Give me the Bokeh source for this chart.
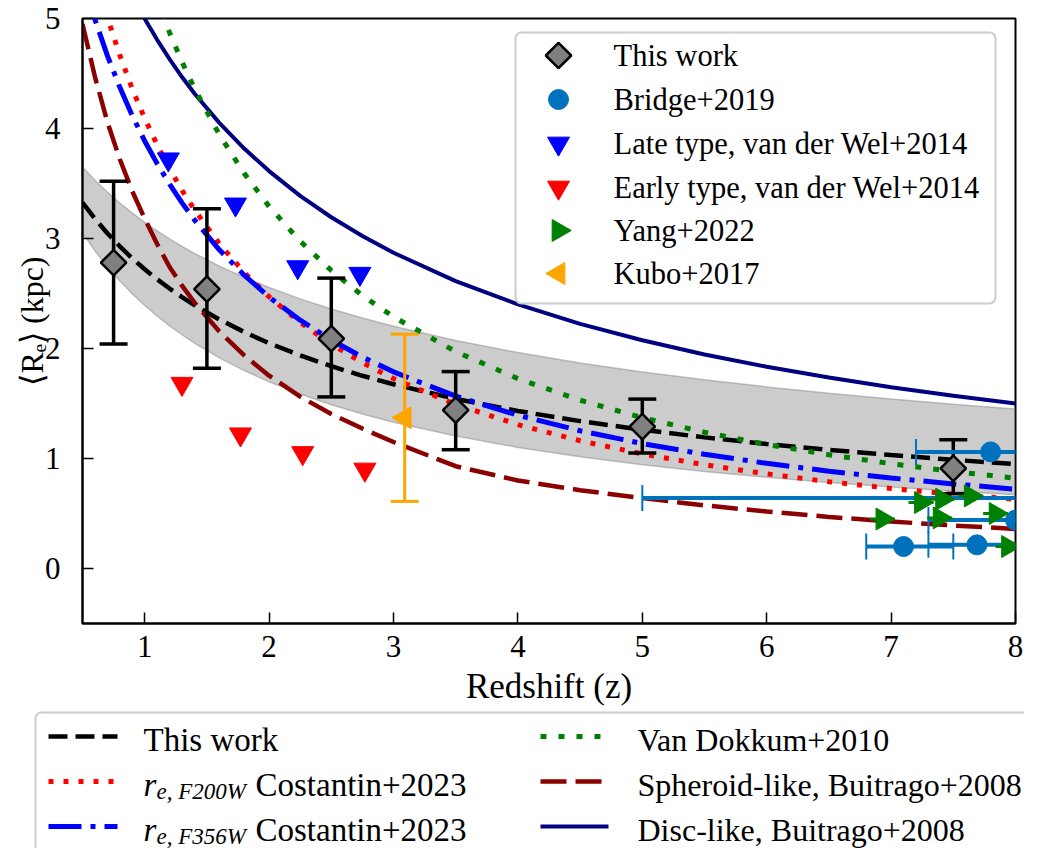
import math
from bokeh.plotting import figure
from bokeh.models import Range1d, FixedTicker
from bokeh.layouts import column
from bokeh.embed import file_html
from bokeh.resources import INLINE
from bokeh.core.properties import value

SERIF = "Liberation Serif"

# ---------------- data ----------------
x_ticks = [1, 2, 3, 4, 5, 6, 7, 8]
y_ticks = [0, 1, 2, 3, 4, 5]

# This work: binned mean sizes with error bars
tw_z = [0.75, 1.5, 2.5, 3.5, 5.0, 7.5]
tw_re = [2.78, 2.54, 2.09, 1.44, 1.29, 0.91]
tw_lo = [2.04, 1.82, 1.56, 1.08, 1.05, 0.68]
tw_hi = [3.52, 3.27, 2.64, 1.79, 1.54, 1.17]

# Bridge+2019 (points with redshift error bars)
br_z = [7.80, 8.60, 8.00, 7.10, 7.69]
br_re = [1.06, 0.64, 0.44, 0.20, 0.215]
br_zlo = [7.20, 5.00, 7.30, 6.80, 7.30]
br_zhi = [8.40, 9.50, 8.60, 7.50, 8.10]

# van der Wel+2014
late_z = [1.19, 1.73, 2.23, 2.73]
late_re = [3.72, 3.31, 2.74, 2.68]
early_z = [1.30, 1.77, 2.27, 2.77]
early_re = [1.68, 1.22, 1.05, 0.90]

# Yang+2022
yang_z = [7.24, 7.41, 7.64, 7.84, 6.93, 7.39, 7.94]
yang_re = [0.60, 0.63, 0.66, 0.50, 0.45, 0.46, 0.20]
yang_zerr = [0.10, 0.10, 0.10, 0.10, 0.10, 0.10, 0.10]

# Kubo+2017
kubo_z = [3.09]
kubo_re = [1.37]
kubo_lo = [0.61]
kubo_hi = [2.13]

# Curves (values read along redshift)
zc = [0.5, 0.6, 0.7, 0.8, 0.9, 1.0, 1.1, 1.2, 1.3, 1.4, 1.6, 1.8, 2.0, 2.25,
      2.5, 2.75, 3.0, 3.5, 4.0, 4.5, 5.0, 5.5, 6.0, 6.5, 7.0, 7.5, 8.0]
fit_this = [3.327, 3.180, 3.048, 2.929, 2.820, 2.720, 2.629, 2.545, 2.467, 2.394,
            2.264, 2.150, 2.048, 1.937, 1.839, 1.752, 1.675, 1.542, 1.432, 1.340,
            1.261, 1.192, 1.132, 1.079, 1.031, 0.988, 0.949]
band_hi = [3.650, 3.530, 3.422, 3.323, 3.231, 3.147, 3.069, 2.996, 2.929, 2.865,
           2.749, 2.647, 2.554, 2.451, 2.359, 2.277, 2.202, 2.073, 1.963, 1.869,
           1.787, 1.715, 1.651, 1.593, 1.541, 1.494, 1.450]
band_lo = [3.050, 2.888, 2.744, 2.614, 2.497, 2.391, 2.295, 2.206, 2.125, 2.049,
           1.915, 1.799, 1.697, 1.586, 1.489, 1.405, 1.330, 1.204, 1.101, 1.016,
           0.944, 0.882, 0.829, 0.782, 0.740, 0.703, 0.670]
cost_f200w = [5.855, 5.402, 5.010, 4.666, 4.361, 4.092, 3.851, 3.634, 3.438, 3.261,
              2.952, 2.691, 2.470, 2.236, 2.039, 1.871, 1.726, 1.491, 1.308, 1.161,
              1.042, 0.943, 0.860, 0.789, 0.728, 0.675, 0.629]
cost_f356w = [5.364, 4.991, 4.663, 4.374, 4.117, 3.887, 3.681, 3.494, 3.324, 3.169,
              2.897, 2.667, 2.468, 2.257, 2.077, 1.922, 1.788, 1.567, 1.393, 1.252,
              1.136, 1.038, 0.956, 0.885, 0.823, 0.769, 0.721]
vandokkum = [7.90, 7.29, 6.75, 6.28, 5.86, 5.495, 5.166, 4.871, 4.606, 4.364,
             3.944, 3.592, 3.292, 2.975, 2.709, 2.482, 2.288, 1.972, 1.726, 1.530,
             1.371, 1.239, 1.128, 1.034, 0.953, 0.882, 0.821]
spheroid = [4.95, 4.47, 4.06, 3.72, 3.43, 3.18, 2.95, 2.741, 2.571, 2.418,
            2.155, 1.937, 1.753, 1.562, 1.404, 1.272, 1.150, 0.930, 0.800, 0.712,
            0.640, 0.574, 0.518, 0.469, 0.427, 0.391, 0.360]
disc = [6.29, 5.97, 5.69, 5.44, 5.206, 4.997, 4.806, 4.630, 4.468, 4.318,
        4.051, 3.818, 3.613, 3.388, 3.193, 3.022, 2.870, 2.612, 2.401, 2.224,
        2.075, 1.946, 1.834, 1.736, 1.648, 1.570, 1.500]

legend_top_labels = ["This work", "Bridge+2019", "Late type, van der Wel+2014",
                     "Early type, van der Wel+2014", "Yang+2022", "Kubo+2017"]
legend_bottom_c2 = ["Van Dokkum+2010", "Spheroid-like, Buitrago+2008",
                    "Disc-like, Buitrago+2008"]

BRIDGE_C = "#0072bd"

# ---------------- layout constants (pixels) ----------------
W = 1024
B_LEFT, B_RIGHT, B_TOP = 82, 9, 18
FRAME_H = 605
H_MAIN = 708
H_LEG = 848 - H_MAIN
X0, X1, Y0, Y1 = 0.5, 8.0, -0.5, 5.0
FRAME_W = W - B_LEFT - B_RIGHT


def dx(px):  # screen px inside the frame -> data x
    return X0 + px * (X1 - X0) / FRAME_W


def dy(py):  # screen px from frame top -> data y
    return Y1 - py * (Y1 - Y0) / FRAME_H


# ---------------- main figure ----------------
p = figure(width=W, height=H_MAIN, x_range=Range1d(X0, X1), y_range=Range1d(Y0, Y1),
           output_backend="svg", toolbar_location=None,
           min_border_left=B_LEFT, min_border_right=B_RIGHT, min_border_top=B_TOP,
           min_border_bottom=H_MAIN - B_TOP - FRAME_H)
try:
    p.frame_align = False
except Exception:
    pass
p.xgrid.visible = False
p.ygrid.visible = False
p.outline_line_color = "black"
p.outline_line_width = 2
p.background_fill_color = "white"
p.border_fill_color = "white"

for ax in (p.xaxis[0], p.yaxis[0]):
    ax.axis_line_width = 2
    ax.axis_line_color = "black"
    ax.major_tick_in = 11
    ax.major_tick_out = 0
    ax.major_tick_line_width = 1.5
    ax.minor_tick_line_color = None
    ax.major_label_text_font = SERIF
    ax.major_label_text_font_size = "31px"
    ax.major_label_text_color = "black"
    ax.axis_label_text_font = SERIF
    ax.axis_label_text_font_style = "normal"
    ax.axis_label_text_color = "black"
p.xaxis.ticker = FixedTicker(ticks=x_ticks, minor_ticks=[])
p.yaxis.ticker = FixedTicker(ticks=y_ticks, minor_ticks=[])
p.xaxis.axis_label = "Redshift (z)"
p.yaxis.axis_label = "⟨Rₑ⟩ (kpc)"
p.xaxis.axis_label_text_font_size = "35px"
p.yaxis.axis_label_text_font_size = "32px"
p.xaxis.major_label_standoff = 12
p.xaxis.axis_label_standoff = 7
p.yaxis.major_label_standoff = 22
p.yaxis.axis_label_standoff = -8

# shaded band + curves
p.varea(x=zc, y1=band_lo, y2=band_hi, fill_color="gray", fill_alpha=0.4)
p.line(zc, band_hi, line_color="gray", line_alpha=0.45, line_width=1.5)
p.line(zc, band_lo, line_color="gray", line_alpha=0.45, line_width=1.5)
p.line(zc, fit_this, line_color="black", line_width=4.5, line_dash="19 8")
p.line(zc, cost_f200w, line_color="red", line_width=5, line_dash="5 10")
p.line(zc, cost_f356w, line_color="blue", line_width=5, line_dash="33 9 5 9")
p.line(zc, disc, line_color="navy", line_width=4)
p.line(zc, vandokkum, line_color="green", line_width=5, line_dash="6 12")
p.line(zc, spheroid, line_color="darkred", line_width=4.5, line_dash="26 9")

# marker styles
ST_TW = dict(marker="square", size=18, angle=math.pi / 4, fill_color="gray",
             line_color="black", line_width=2.5)
ST_BR = dict(marker="circle", size=20, fill_color=BRIDGE_C, line_color=BRIDGE_C)
ST_LATE = dict(marker="inverted_triangle", size=22, fill_color="blue", line_color="blue")
ST_EARLY = dict(marker="inverted_triangle", size=22, fill_color="red", line_color="red")
ST_YANG = dict(marker="triangle", angle=-math.pi / 2, size=22, fill_color="green",
               line_color="green")
ST_KUBO = dict(marker="triangle", angle=math.pi / 2, size=22, fill_color="orange",
               line_color="orange")

# This work
p.segment(x0=tw_z, y0=tw_lo, x1=tw_z, y1=tw_hi, line_color="black", line_width=3.5)
p.scatter(tw_z, tw_lo, marker="dash", size=28, line_color="black", line_width=3.5)
p.scatter(tw_z, tw_hi, marker="dash", size=28, line_color="black", line_width=3.5)
p.scatter(tw_z, tw_re, **ST_TW)

# Bridge+2019
p.segment(x0=br_zlo, y0=br_re, x1=br_zhi, y1=br_re, line_color=BRIDGE_C, line_width=4)
p.scatter(br_zlo, br_re, marker="dash", angle=math.pi / 2, size=26, line_color=BRIDGE_C, line_width=2)
p.scatter(br_zhi, br_re, marker="dash", angle=math.pi / 2, size=26, line_color=BRIDGE_C, line_width=2)
p.scatter(br_z, br_re, **ST_BR)

# van der Wel+2014
p.scatter(late_z, late_re, **ST_LATE)
p.scatter(early_z, early_re, **ST_EARLY)

# Yang+2022
yang_lo = [z - e for z, e in zip(yang_z, yang_zerr)]
yang_hi = [z + e for z, e in zip(yang_z, yang_zerr)]
p.segment(x0=yang_lo, y0=yang_re, x1=yang_hi, y1=yang_re, line_color="green", line_width=3)
p.scatter(yang_z, yang_re, **ST_YANG)

# Kubo+2017
p.segment(x0=kubo_z, y0=kubo_lo, x1=kubo_z, y1=kubo_hi, line_color="orange", line_width=3)
p.scatter(kubo_z, kubo_lo, marker="dash", size=28, line_color="orange", line_width=3)
p.scatter(kubo_z, kubo_hi, marker="dash", size=28, line_color="orange", line_width=3)
p.scatter(kubo_z, kubo_re, **ST_KUBO)

# ---- upper legend (drawn inside the frame, positioned in screen pixels) ----
LX0, LX1, LY0, LY1 = 433, 913, 14, 285   # box, px relative to frame
box_kw = dict(left=[dx(LX0)], right=[dx(LX1)], top=[dy(LY0)], bottom=[dy(LY1)],
              fill_color="white", fill_alpha=0.8, line_color="#cccccc", line_width=2)
try:
    p.quad(border_radius=6, **box_kw)
except Exception:
    p.quad(**box_kw)
row_px = [37, 81, 125, 169, 212, 255]
for st, lab, ry in zip([ST_TW, ST_BR, ST_LATE, ST_EARLY, ST_YANG, ST_KUBO],
                       legend_top_labels, row_px):
    p.scatter([dx(476)], [dy(ry)], **st)
    p.text(x=[dx(531)], y=[dy(ry)], text=[lab], text_font=value(SERIF),
           text_font_size="30.5px", text_baseline="middle", text_align="left",
           text_color="black")

# ---------------- lower panel: legend ----------------
lg = figure(width=W, height=H_LEG, x_range=Range1d(0, W), y_range=Range1d(H_LEG, 0),
            x_axis_type=None, y_axis_type=None, output_backend="svg",
            toolbar_location=None, min_border=0)
try:
    lg.frame_align = False
except Exception:
    pass
lg.outline_line_color = None
lg.background_fill_color = "white"
lg.border_fill_color = "white"

box2 = dict(left=[35], right=[W + 60], top=[4], bottom=[H_LEG + 60], fill_color="white",
            line_color="#cccccc", line_width=2)
try:
    lg.quad(border_radius=6, **box2)
except Exception:
    lg.quad(**box2)

row_line_y = [28, 73, 118]
row_text_y = [31, 76, 121]
C1A, C1B, C2A, C2B = 48, 117, 540, 608

lg.segment(x0=[C1A], y0=[row_line_y[0]], x1=[C1B], y1=[row_line_y[0]], line_color="black",
           line_width=4.5, line_dash="19 8")
lg.segment(x0=[C1A], y0=[row_line_y[1]], x1=[C1B], y1=[row_line_y[1]], line_color="red",
           line_width=5, line_dash="5 10")
lg.segment(x0=[C1A], y0=[row_line_y[2]], x1=[C1B], y1=[row_line_y[2]], line_color="blue",
           line_width=5, line_dash="33 9 5 9")
lg.segment(x0=[C2A], y0=[row_line_y[0]], x1=[C2B], y1=[row_line_y[0]], line_color="green",
           line_width=5, line_dash="6 12")
lg.segment(x0=[C2A], y0=[row_line_y[1]], x1=[C2B], y1=[row_line_y[1]], line_color="darkred",
           line_width=4.5, line_dash="26 9")
lg.segment(x0=[C2A], y0=[row_line_y[2]], x1=[C2B], y1=[row_line_y[2]], line_color="navy",
           line_width=4)

tkw = dict(text_font=value(SERIF), text_color="black", text_baseline="middle",
           text_align="left")
lg.text(x=[143], y=[row_text_y[0]], text=["This work"], text_font_size="33px", **tkw)
for i, filt in ((1, "F200W"), (2, "F356W")):
    lg.text(x=[143], y=[row_text_y[i]], text=["r"], text_font_size="33px",
            text_font_style="italic", **tkw)
    lg.text(x=[156], y=[row_text_y[i] + 7], text=["e, " + filt], text_font_size="23px",
            text_font_style="italic", **tkw)
    lg.text(x=[255], y=[row_text_y[i]], text=["Costantin+2023"], text_font_size="33px", **tkw)
for i, lab in enumerate(legend_bottom_c2):
    lg.text(x=[637], y=[row_text_y[i]], text=[lab], text_font_size="32px", **tkw)

layout = column(p, lg, spacing=0)
open("out.html", "w").write(file_html(layout, INLINE))
